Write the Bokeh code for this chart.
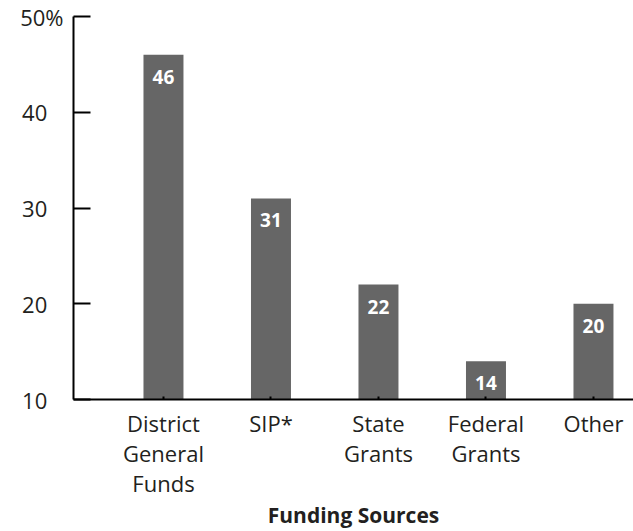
from bokeh.plotting import figure
from bokeh.models import ColumnDataSource, Range1d, FixedTicker
from bokeh.core.properties import value
from bokeh.embed import file_html
from bokeh.resources import INLINE

# ---- data ----
categories = ["District\nGeneral\nFunds", "SIP*", "State\nGrants", "Federal\nGrants", "Other"]
values = [46, 31, 22, 14, 20]
value_labels = ["46", "31", "22", "14", "20"]
y_ticks = [10, 20, 30, 40, 50]
y_tick_labels = ["10", "20", "30", "40", "50%"]
x_title = "Funding Sources"

FONT = "Open Sans"
TXT = "#231f20"
BAR = "#666666"
PAD = "\u2007\u2009"  # pads plain numbers to the width of "50%" so labels line up on the left

idx = list(range(len(categories)))
src = ColumnDataSource(dict(x=idx, top=values, lab=value_labels))

W, H = 633, 531
p = figure(width=W, height=H, output_backend="svg", toolbar_location=None,
           x_range=Range1d(-0.837, -0.837 + 560 / 107.5),
           y_range=Range1d(10, 50),
           min_border_left=73, min_border_right=0, min_border_top=16, min_border_bottom=131)
p.outline_line_color = None
p.xgrid.visible = False
p.ygrid.visible = False
p.background_fill_color = "white"
p.border_fill_color = "white"

p.vbar(x="x", top="top", bottom=10, width=0.372, source=src,
       fill_color=BAR, line_color=None)
p.text(x="x", y="top", text="lab", source=src, text_align="center",
       text_baseline="middle", y_offset=22, text_color="white",
       text_font=value(FONT), text_font_style="bold", text_font_size="19px")

# x axis
xa = p.xaxis[0]
xa.ticker = FixedTicker(ticks=idx)
xa.major_label_overrides = {i: c for i, c in zip(idx, categories)}
xa.axis_line_width = 2
xa.axis_line_color = "black"
xa.major_tick_in = 3
xa.major_tick_out = 0
xa.major_tick_line_width = 2
xa.minor_tick_line_color = None
xa.major_label_text_font = FONT
xa.major_label_text_font_size = "22px"
xa.major_label_text_color = TXT
xa.major_label_text_line_height = 1.0
xa.major_label_standoff = 8
xa.axis_label = x_title
xa.axis_label_text_font = FONT
xa.axis_label_text_font_style = "bold"
xa.axis_label_text_font_size = "21px"
xa.axis_label_text_color = TXT
xa.axis_label_standoff = 0

# y axis
ya = p.yaxis[0]
ya.ticker = FixedTicker(ticks=y_ticks)
ya.major_label_overrides = {t: (lab if lab.endswith("%") else lab + PAD)
                            for t, lab in zip(y_ticks, y_tick_labels)}
ya.axis_line_width = 2
ya.axis_line_color = "black"
ya.major_tick_in = 17
ya.major_tick_out = 0
ya.major_tick_line_width = 2
ya.minor_tick_line_color = None
ya.major_label_text_font = FONT
ya.major_label_text_font_size = "22px"
ya.major_label_text_color = TXT
ya.major_label_standoff = 10

open("out.html", "w").write(file_html(p, INLINE))
